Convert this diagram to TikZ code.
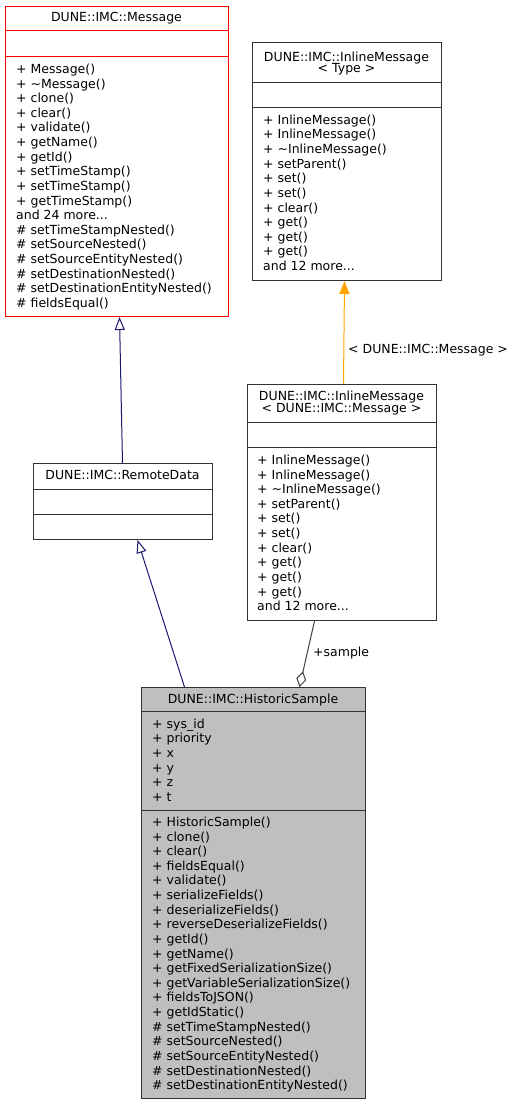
\documentclass[tikz,border=0pt]{standalone}
\usepackage{fontspec}
\setmainfont{DejaVu Sans}
\usetikzlibrary{arrows.meta}
\definecolor{boxline}{HTML}{333333}
\definecolor{inhblue}{HTML}{191970}
\definecolor{tmplorange}{HTML}{FFA500}
\definecolor{usegray}{HTML}{404040}
\definecolor{mainfill}{HTML}{BFBFBF}
\newcommand\mdots{...}
\newcommand\memberlines[4]{%
  \foreach \t [count=\i from 0] in {#4} {\node[member] (#1-\i) at (#2, {#3+14.62*\i}) {\t};}}
\begin{document}
\begin{tikzpicture}[x=1pt,y=-1pt,
  txt/.style={inner sep=0pt, font=\fontsize{12.5}{14.6}\selectfont},
  member/.style={txt, anchor=base west},
  title/.style={txt, anchor=base},
  umlbox/.style={draw=boxline, line width=1pt, inner sep=0pt, anchor=north west, fill=white},
  sepline/.style={draw=boxline, line width=1pt},
  inherit/.style={draw=inhblue, line width=1pt, -{Triangle[open, length=13pt, width=10pt, line width=1pt]}},
  tmpl/.style={draw=tmplorange, line width=1pt, -{Triangle[length=13pt, width=10pt, fill=tmplorange]}},
  uses/.style={draw=usegray, line width=1pt, -{Diamond[open, length=16pt, width=10pt, line width=1pt]}},
  elabel/.style={txt, anchor=base west}
]
\useasboundingbox (0,0) rectangle (519,1107);

% DUNE::IMC::Message
\node[umlbox, draw=red, minimum width=223pt, minimum height=310pt] (msg) at (5,6) {};
\draw[sepline, draw=red] (5,31) -- (228,31);
\draw[sepline, draw=red] (5,57) -- (228,57);
\node[title] (msgT) at (116.5,22) {DUNE::IMC::Message};
\memberlines{msgM}{16}{73.5}{+ Message(),+ \textasciitilde Message(),+ clone(),+ clear(),+ validate(),+ getName(),+ getId(),+ setTimeStamp(),+ setTimeStamp(),+ getTimeStamp(),and 24 more\mdots,\# setTimeStampNested(),\# setSourceNested(),\# setSourceEntityNested(),\# setDestinationNested(),\# setDestinationEntityNested(),\# fieldsEqual()}

% DUNE::IMC::InlineMessage< Type >
\node[umlbox, minimum width=189pt, minimum height=237.7pt] (imt) at (252,42.3) {};
\draw[sepline] (252,82.3) -- (441,82.3);
\draw[sepline] (252,107.7) -- (441,107.7);
\node[title] (imtT1) at (346.5,61.3) {DUNE::IMC::InlineMessage};
\node[title] (imtT2) at (346.5,72.5) {< Type >};
\memberlines{imtM}{263}{124.3}{+ InlineMessage(),+ InlineMessage(),+ \textasciitilde InlineMessage(),+ setParent(),+ set(),+ set(),+ clear(),+ get(),+ get(),+ get(),and 12 more\mdots}

% DUNE::IMC::InlineMessage< DUNE::IMC::Message >
\node[umlbox, minimum width=189pt, minimum height=236.3pt] (imd) at (247,383.7) {};
\draw[sepline] (247,422.7) -- (436,422.7);
\draw[sepline] (247,447.7) -- (436,447.7);
\node[title] (imdT1) at (341.5,400.7) {DUNE::IMC::InlineMessage};
\node[title] (imdT2) at (341.5,412) {< DUNE::IMC::Message >};
\memberlines{imdM}{257}{464.5}{+ InlineMessage(),+ InlineMessage(),+ \textasciitilde InlineMessage(),+ setParent(),+ set(),+ set(),+ clear(),+ get(),+ get(),+ get(),and 12 more\mdots}

% DUNE::IMC::RemoteData
\node[umlbox, minimum width=179pt, minimum height=76pt] (rd) at (33,463) {};
\draw[sepline] (33,489) -- (212,489);
\draw[sepline] (33,514) -- (212,514);
\node[title] (rdT) at (122.5,479) {DUNE::IMC::RemoteData};

% DUNE::IMC::HistoricSample
\node[umlbox, fill=mainfill, minimum width=224pt, minimum height=411pt] (hs) at (141,687) {};
\draw[sepline] (141,711.7) -- (365,711.7);
\draw[sepline] (141,810) -- (365,810);
\node[title] (hsT) at (253,703.7) {DUNE::IMC::HistoricSample};
\memberlines{hsA}{152}{728.2}{+ sys\_id,+ priority,+ x,+ y,+ z,+ t}
\memberlines{hsM}{152}{826.5}{+ HistoricSample(),+ clone(),+ clear(),+ fieldsEqual(),+ validate(),+ serializeFields(),+ deserializeFields(),+ reverseDeserializeFields(),+ getId(),+ getName(),+ getFixedSerializationSize(),+ getVariableSerializationSize(),+ fieldsToJSON(),+ getIdStatic(),\# setTimeStampNested(),\# setSourceNested(),\# setSourceEntityNested(),\# setDestinationNested(),\# setDestinationEntityNested()}

% connectors
\draw[inherit] ([xshift=-0.5pt]rd.north) -- ([xshift=2.5pt]msg.south);
\draw[inherit] ([xshift=-69pt]hs.north) -- ([xshift=14.5pt]rd.south);
\draw[tmpl] ([xshift=1.5pt]imd.north) -- ([xshift=-2.5pt]imt.south);
\draw[uses] ([xshift=-27.5pt]imd.south) -- ([xshift=46pt]hs.north);

\node[elabel] (lblT) at (348,353.3) {< DUNE::IMC::Message >};
\node[elabel] (lblS) at (313,656.7) {+sample};
\end{tikzpicture}
\end{document}
